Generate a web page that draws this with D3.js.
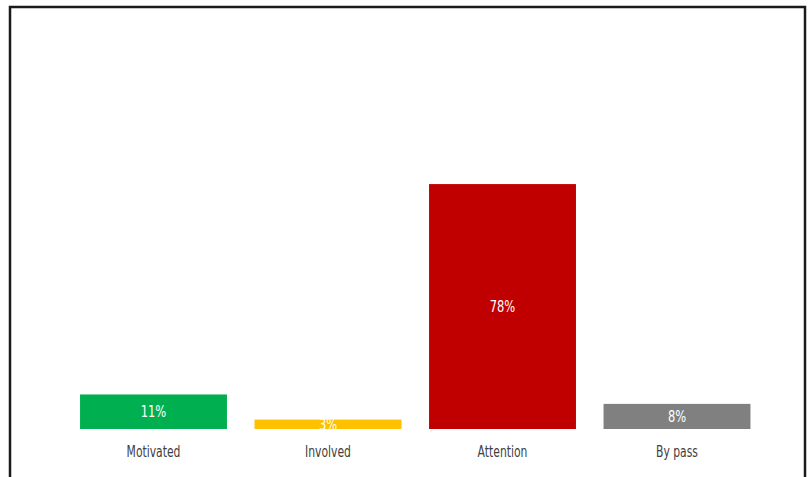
<!DOCTYPE html>
<html>
<head>
<meta charset="utf-8">
<script src="https://cdnjs.cloudflare.com/ajax/libs/d3/7.8.5/d3.min.js"></script>
<style>
  body { margin: 0; background: #fff; }
</style>
</head>
<body>
<div id="chart"></div>
<script>
var categories = ["Motivated", "Involved", "Attention", "By pass"];
var values = [11, 3, 78, 8];
var colors = ["#00B050", "#FFC000", "#C00000", "#808080"];

var width = 811, height = 477;
var baseY = 429;
var fontFam = "DejaVu Sans Condensed, DejaVu Sans, sans-serif";

var svg = d3.select("#chart")
    .append("svg")
    .attr("width", width)
    .attr("height", height);

// frame round the chart
svg.append("rect")
    .attr("x", 10)
    .attr("y", 7)
    .attr("width", 795)
    .attr("height", 490)
    .attr("fill", "none")
    .attr("stroke", "#1a1a1a")
    .attr("stroke-width", 2.5);

var xScale = d3.scaleBand()
    .domain(categories)
    .range([66.25, 764.25])
    .paddingInner(0.158)
    .paddingOuter(0.079);

var yScale = d3.scaleLinear()
    .domain([0, 100])
    .range([baseY, 115]);

var data = categories.map(function(c, i) {
    return { name: c, value: values[i], color: colors[i] };
});

svg.selectAll(".bar")
    .data(data)
    .enter()
    .append("rect")
    .attr("class", "bar")
    .attr("x", function(d) { return xScale(d.name); })
    .attr("y", function(d) { return yScale(d.value); })
    .attr("width", xScale.bandwidth())
    .attr("height", function(d) { return baseY - yScale(d.value); })
    .attr("fill", function(d) { return d.color; });

// value labels, squeezed a bit to look like the narrow original font
svg.selectAll(".label")
    .data(data)
    .enter()
    .append("text")
    .attr("class", "label")
    .attr("transform", function(d) {
        var cx = xScale(d.name) + xScale.bandwidth() / 2;
        var cy = (yScale(d.value) + baseY) / 2;
        return "translate(" + cx + "," + cy + ") scale(0.85,1)";
    })
    .attr("dy", "0.36em")
    .attr("text-anchor", "middle")
    .attr("font-family", fontFam)
    .style("font-size", "15px")
    .style("fill", "#ffffff")
    .text(function(d) { return d.value + "%"; });

var xAxis = svg.append("g")
    .attr("transform", "translate(0," + baseY + ")")
    .call(d3.axisBottom(xScale).tickSize(0).tickPadding(17));

xAxis.select(".domain").remove();
xAxis.selectAll("text")
    .attr("font-family", fontFam)
    .attr("transform", "scale(0.8,1)")
    .style("font-size", "15px")
    .style("fill", "#404040");
</script>
</body>
</html>
